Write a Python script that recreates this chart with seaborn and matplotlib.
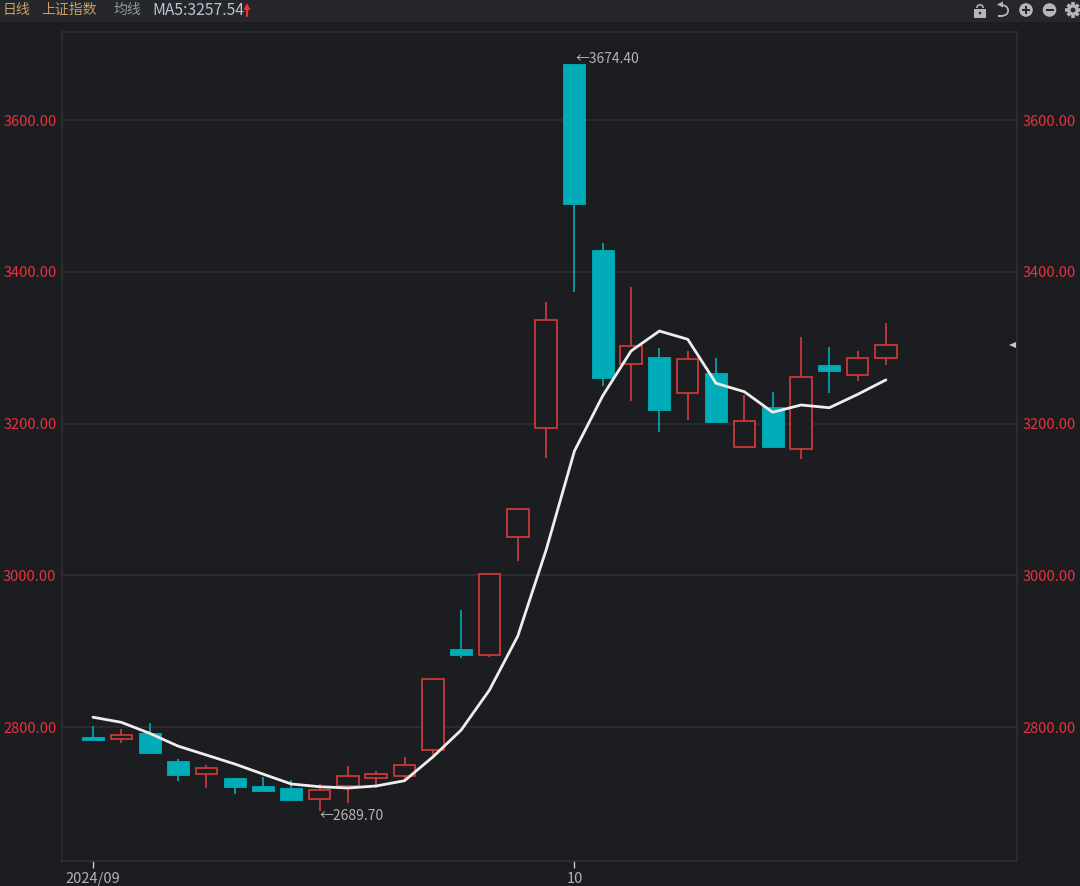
import matplotlib
matplotlib.use('Agg')
import matplotlib.pyplot as plt
from matplotlib.patches import Rectangle, Circle, Wedge, Polygon
import numpy as np
import pandas as pd
import seaborn as sns

# daily candles
opens = [2787.2, 2784.7, 2792.1, 2754.8, 2738.5, 2732.8, 2721.8, 2719.2, 2705.5, 2722.7,
         2733.2, 2735.0, 2769.7, 2902.8, 2894.9, 3050.4, 3194.5, 3674.4, 3428.3, 3278.4,
         3288.0, 3240.7, 3266.0, 3169.4, 3221.3, 3166.4, 3277.0, 3264.4, 3285.9]
closes = [2782.9, 2789.0, 2766.1, 2736.4, 2745.6, 2720.9, 2716.0, 2703.8, 2716.6, 2735.4,
          2737.6, 2749.5, 2863.3, 2894.9, 3001.6, 3087.3, 3336.4, 3489.3, 3259.6, 3302.1,
          3217.4, 3284.6, 3201.6, 3203.7, 3169.4, 3261.7, 3268.9, 3286.3, 3303.5]
highs = [2801.3, 2797.0, 2804.9, 2757.8, 2750.0, 2732.8, 2734.5, 2730.0, 2724.9, 2748.6,
         2742.4, 2760.9, 2863.3, 2954.2, 3001.6, 3087.3, 3359.7, 3674.4, 3437.5, 3380.3,
         3299.5, 3296.0, 3286.7, 3237.6, 3241.0, 3314.4, 3300.4, 3296.0, 3332.0]
lows = [2782.9, 2778.6, 2766.1, 2728.8, 2719.0, 2711.7, 2716.0, 2703.8, 2689.7, 2699.4,
        2719.0, 2730.0, 2763.0, 2891.0, 2892.0, 3018.8, 3155.0, 3373.3, 3249.8, 3229.6,
        3189.2, 3204.6, 3201.6, 3169.4, 3169.4, 3153.2, 3240.0, 3256.0, 3277.5]
ma5 = [2812.9, 2806.2, 2791.7, 2774.9, 2763.1, 2751.3, 2738.0, 2724.9, 2721.3, 2719.6,
       2722.3, 2729.2, 2760.5, 2796.0, 2848.8, 2919.9, 3033.3, 3163.8, 3236.6, 3295.6,
       3321.9, 3311.0, 3253.0, 3241.9, 3214.8, 3224.4, 3220.8, 3238.4, 3257.5]
price_ticks = [2800, 3000, 3200, 3400, 3600]
date_ticks = [0, 17]
date_labels = ['2024/09', '10']

BG = '#1c1d21'
BAR = '#25272b'
GRID = '#2e3034'
TEAL = '#00acb8'
RED = '#d63a3a'
TICK = '#e8323c'
GREY = '#b4b4b4'

sns.set_theme(style='dark')
plt.rcParams['font.family'] = ['Noto Sans CJK SC', 'DejaVu Sans']

W, H = 1080, 886
fig = plt.figure(figsize=(W / 100, H / 100), dpi=100, facecolor=BG)
ax = fig.add_axes([62 / W, 1 - 861 / H, (1017 - 62) / W, (861 - 32) / H], facecolor=BG)

df = pd.DataFrame({'day': np.arange(len(ma5)), 'ma5': ma5, 'open': opens, 'close': closes,
                   'high': highs, 'low': lows})

for _, r in df.iterrows():
    up = r['close'] >= r['open']
    col = RED if up else TEAL
    ax.vlines(r['day'], r['low'], r['high'], color=col, lw=1.2, zorder=2)
    bot = min(r['open'], r['close'])
    hgt = abs(r['close'] - r['open'])
    if up:
        ax.bar(r['day'], hgt, bottom=bot, width=0.76, facecolor=BG, edgecolor=col, lw=1.2, zorder=3)
    else:
        ax.bar(r['day'], hgt, bottom=bot, width=0.78, facecolor=col, edgecolor=col, lw=0.6, zorder=3)

# the 5 day average
sns.lineplot(data=df, x='day', y='ma5', color='#eeeeee', lw=2.0, ax=ax, zorder=4)

ax.set_xlim((62 - 93) / 28.32, (1017 - 93) / 28.32)
ax.set_ylim(2623.4, 3716)
ax.set_xlabel('')
ax.set_ylabel('')
ax.set_yticks(price_ticks)
ax.set_yticklabels(['%.2f' % p for p in price_ticks])
ax.set_xticks(date_ticks)
ax.set_xticklabels(date_labels)
ax.grid(axis='y', color=GRID, lw=1.1)
ax.grid(axis='x', visible=False)
ax.tick_params(axis='y', left=False, right=False, labelleft=True, labelright=True,
               labelcolor=TICK, labelsize=10.5, length=0, pad=4.0)
ax.tick_params(axis='x', bottom=True, color='#c8c8c8', length=5, width=1, labelcolor=GREY,
               labelsize=10.5, pad=3)
for s in ax.spines.values():
    s.set_color(GRID)
    s.set_linewidth(1.1)
    s.set_visible(True)

# high / low callouts
ax.annotate('←3674.40', (17, 3674.4), xytext=(1, 5), textcoords='offset pixels', color=GREY,
            fontsize=10, va='center', ha='left', zorder=5)
ax.annotate('←2689.70', (8, 2689.7), xytext=(0, -5), textcoords='offset pixels', color=GREY,
            fontsize=10, va='center', ha='left', zorder=5)

# header strip, drawn in pixel coordinates
pix = fig.add_axes([0, 0, 1, 1], facecolor='none', zorder=10)
pix.set_xlim(0, W)
pix.set_ylim(H, 0)
pix.axis('off')
pix.add_patch(Rectangle((0, 0), W, 22, facecolor=BAR, edgecolor='none'))
pix.text(3, 10, '日线', color='#c9a063', fontsize=10, va='center')
pix.text(41, 10, '上证指数', color='#c9a063', fontsize=10, va='center')
pix.text(114, 10, '均线', color='#8f97a3', fontsize=10, va='center')
pix.text(152, 10, 'MA5:3257.54', color='#b9c4d2', fontsize=11.3, va='center')
pix.annotate('', xy=(247, 3), xytext=(247, 16),
             arrowprops=dict(arrowstyle='-|>', color='#ff2a2a', lw=1.5, mutation_scale=7,
                             shrinkA=0, shrinkB=0))

# marker at the right edge of the plot
pix.add_patch(Polygon([[1009, 345], [1016, 342], [1016, 348]], facecolor='#c8c8c8', edgecolor='none'))

# toolbar icons
ICON = '#b5b6b8'
pix.add_patch(Rectangle((974, 9), 12, 8.5, facecolor=ICON, edgecolor='none'))
pix.add_patch(Wedge((980, 8), 4, 180, 360, width=1.6, facecolor=ICON, edgecolor='none'))
pix.add_patch(Circle((980, 13), 1.3, facecolor=BAR, edgecolor='none'))
pix.add_patch(Wedge((1003, 10.5), 6, 270, 90, width=1.8, facecolor=ICON, edgecolor='none'))
pix.add_patch(Polygon([[997, 4.5], [1003, 1.5], [1003, 7.5]], facecolor=ICON, edgecolor='none'))
pix.add_patch(Rectangle((998, 14.8), 5, 1.8, facecolor=ICON, edgecolor='none'))
for cx, plus in [(1026, True), (1049.5, False)]:
    pix.add_patch(Circle((cx, 10), 6.8, facecolor=ICON, edgecolor='none'))
    pix.add_patch(Rectangle((cx - 4, 9), 8, 2, facecolor=BAR, edgecolor='none'))
    if plus:
        pix.add_patch(Rectangle((cx - 1, 6), 2, 8, facecolor=BAR, edgecolor='none'))
pix.add_patch(Circle((1073, 10), 5.6, facecolor=ICON, edgecolor='none'))
for a in np.arange(0, 360, 45):
    t = np.deg2rad(a)
    pix.plot([1073 + 4 * np.cos(t), 1073 + 7.6 * np.cos(t)], [10 + 4 * np.sin(t), 10 + 7.6 * np.sin(t)],
             color=ICON, lw=2.6, solid_capstyle='butt')
pix.add_patch(Circle((1073, 10), 2.4, facecolor=BAR, edgecolor='none'))

fig.savefig('out.png', dpi=100, facecolor=BG)
